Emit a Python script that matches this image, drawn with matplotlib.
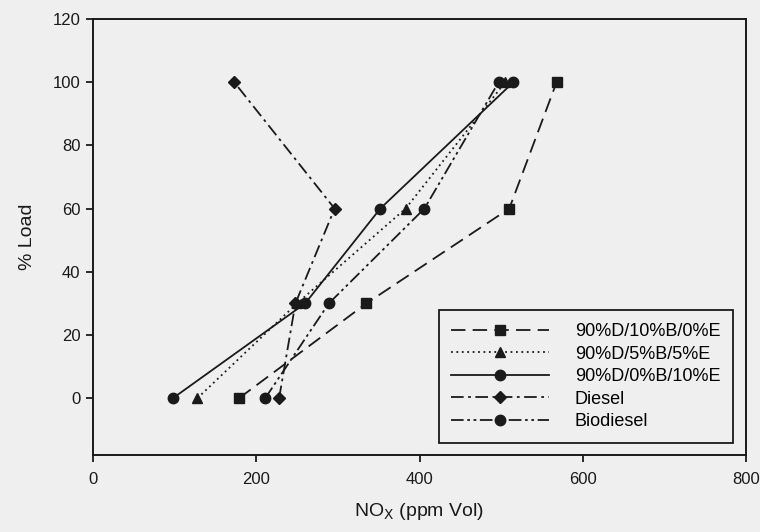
import matplotlib
matplotlib.use("Agg")
import matplotlib.pyplot as plt

loads = [0, 30, 60, 100]
labels = ["90%D/10%B/0%E", "90%D/5%B/5%E", "90%D/0%B/10%E", "Diesel", "Biodiesel"]
nox_d90_b10_e0 = [179, 335, 510, 568]
nox_d90_b5_e5 = [128, 250, 383, 505]
nox_d90_b0_e10 = [98, 260, 352, 515]
nox_diesel = [228, 248, 296, 173]
nox_biodiesel = [211, 289, 406, 497]
x_ticks = [0, 200, 400, 600, 800]
y_ticks = [0, 20, 40, 60, 80, 100, 120]

plt.rcParams['font.family'] = ['Liberation Sans', 'DejaVu Sans']
bg = '#efefef'
ink = '#1a1a1a'

fig = plt.figure(figsize=(7.6, 5.32), dpi=100, facecolor=bg)
ax = fig.add_axes([93/760, 1-455/532, (746-93)/760, (455-19)/532], facecolor=bg)

series = [
    (nox_d90_b10_e0, 's', (0, (8, 4))),
    (nox_d90_b5_e5, '^', (0, (1, 2))),
    (nox_d90_b0_e10, 'o', '-'),
    (nox_diesel, 'D', (0, (7, 2.5, 1.5, 2.5))),
    (nox_biodiesel, 'o', (0, (7, 2, 1.5, 2, 1.5, 2))),
]
for (vals, mk, ls), lab in zip(series, labels):
    ms = 6 if mk == 'D' else 7.5
    ax.plot(vals, loads, color=ink, linestyle=ls, linewidth=1.3, marker=mk,
            markersize=ms, markerfacecolor=ink, markeredgecolor=ink, label=lab)

ax.set_xlim(0, 800)
ax.set_ylim(-18, 120)
ax.set_xticks(x_ticks)
ax.set_yticks(y_ticks)
ax.tick_params(direction='out', length=5, width=1.3, colors=ink, labelsize=12, pad=7)
ax.tick_params(axis='y', pad=4)
for s in ax.spines.values():
    s.set_linewidth(1.4)
    s.set_color(ink)

ax.set_xlabel("NO$_\\mathrm{X}$ (ppm Vol)", fontsize=14, color=ink, labelpad=10)
ax.set_ylabel("% Load", fontsize=14, color=ink, labelpad=12)

leg = ax.legend(loc='lower right', bbox_to_anchor=(733/760, 1-443/532), bbox_transform=fig.transFigure,
                handlelength=5.4, fontsize=13, frameon=True, fancybox=False,
                edgecolor=ink, facecolor=bg, framealpha=1, labelspacing=0.31,
                borderpad=0.7, handletextpad=1.45, borderaxespad=0)
leg.get_frame().set_linewidth(1.3)

fig.savefig("out.png", dpi=100, facecolor=bg)
